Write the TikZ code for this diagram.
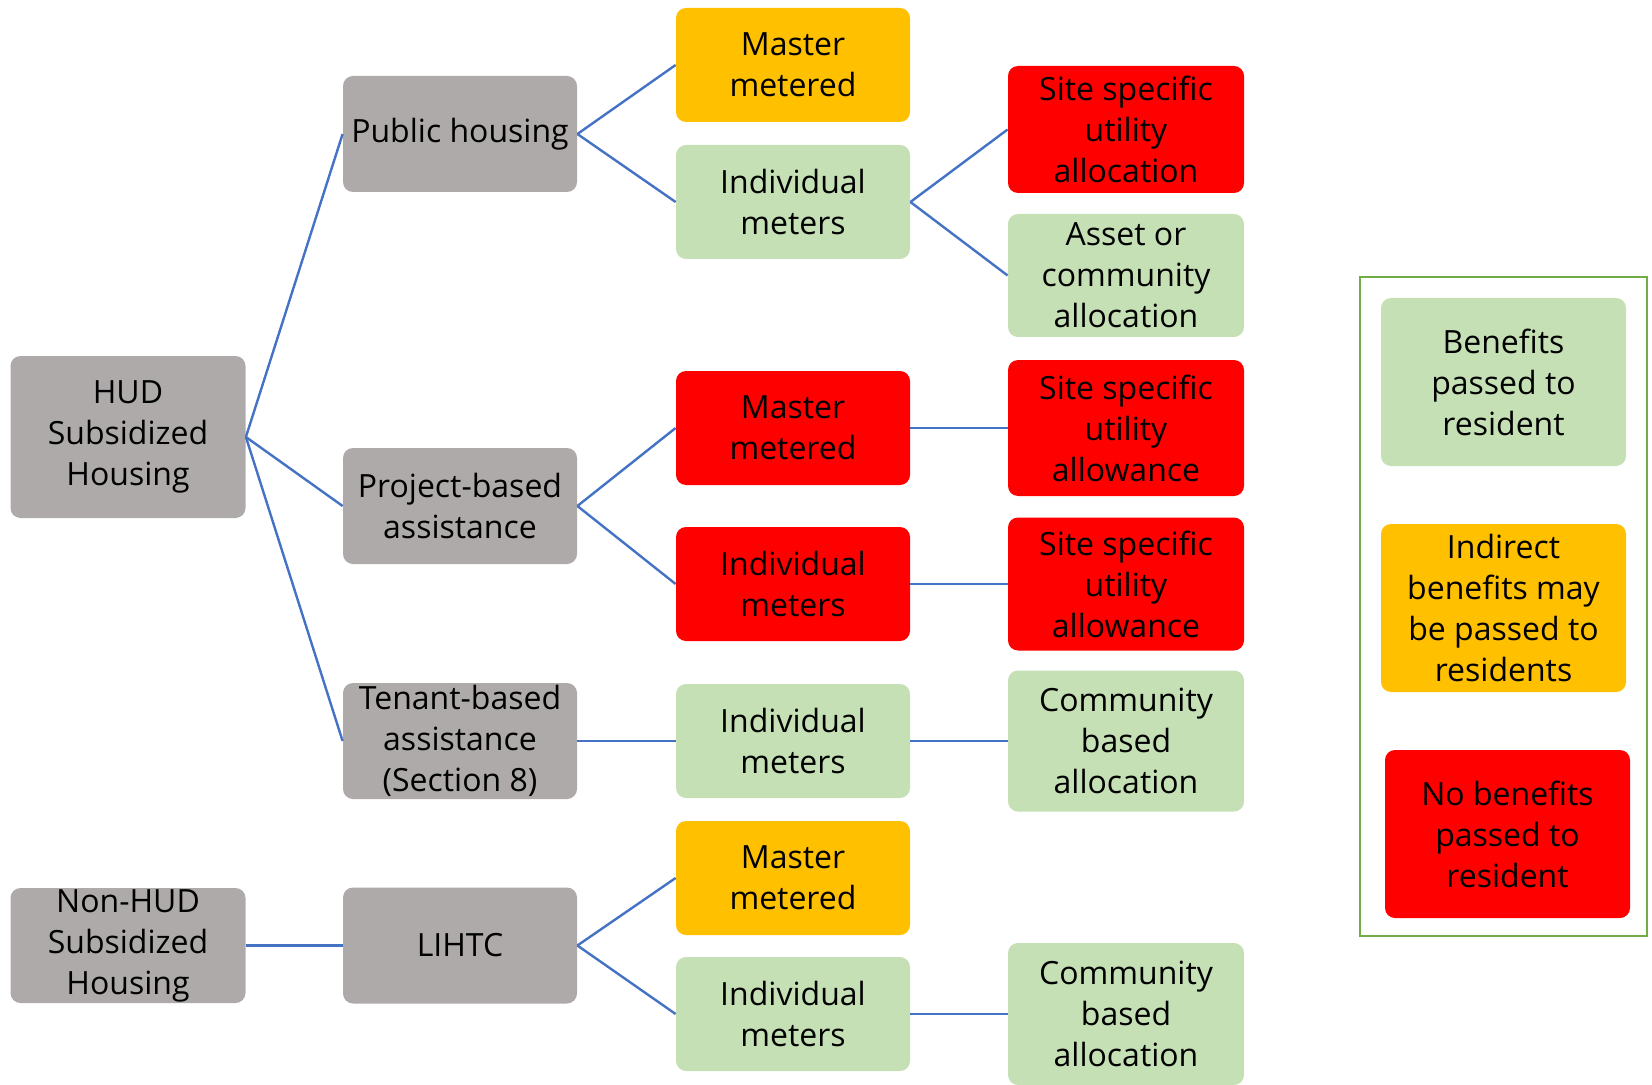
\documentclass[tikz,border=0pt]{standalone}
\usepackage{fontspec}
\setmainfont{Open Sans}
\definecolor{boxgrey}{HTML}{AEAAAA}
\definecolor{boxgreen}{HTML}{C5E0B4}
\definecolor{boxorange}{HTML}{FFC000}
\definecolor{boxred}{HTML}{FF0000}
\definecolor{linkblue}{HTML}{4472C4}
\definecolor{framegreen}{HTML}{70AD47}
\begin{document}
\begin{tikzpicture}[x=0.5pt,y=-0.5pt,
		box/.style={rounded corners=5pt, align=center, inner sep=0pt, text=black,
			font=\fontsize{16}{20.5}\selectfont},
		greybox/.style={box, fill=boxgrey},
		greenbox/.style={box, fill=boxgreen},
		orangebox/.style={box, fill=boxorange},
		redbox/.style={box, fill=boxred},
		link/.style={draw=linkblue, line width=1.2pt}]
		\useasboundingbox (0,0) rectangle (1652,1085);
		
		% first two columns
		\node[greybox, minimum width=117.5pt, minimum height=81pt] (hud) at (128,437) {HUD\\Subsidized\\Housing};
		\node[greybox, minimum width=117.5pt, minimum height=57.5pt] (nonhud) at (128,945.5) {Non-HUD\\Subsidized\\Housing};
		\node[greybox, minimum width=117pt, minimum height=58pt] (public) at (460,134) {Public housing};
		\node[greybox, minimum width=117pt, minimum height=58pt] (project) at (460,506) {Project-based\\assistance};
		\node[greybox, minimum width=117pt, minimum height=58pt] (tenant) at (460,741) {Tenant-based\\assistance\\(Section 8)};
		\node[greybox, minimum width=117pt, minimum height=58pt] (lihtc) at (460,945.5) {LIHTC};
		
		% meters
		\node[orangebox, minimum width=117pt, minimum height=57pt] (master1) at (793,65) {Master\\metered};
		\node[greenbox, minimum width=117pt, minimum height=57pt] (indiv1) at (793,202) {Individual\\meters};
		\node[redbox, minimum width=117pt, minimum height=57pt] (master2) at (793,428) {Master\\metered};
		\node[redbox, minimum width=117pt, minimum height=57pt] (indiv2) at (793,584) {Individual\\meters};
		\node[greenbox, minimum width=117pt, minimum height=57pt] (indiv3) at (793,741) {Individual\\meters};
		\node[orangebox, minimum width=117pt, minimum height=57pt] (master4) at (793,878) {Master\\metered};
		\node[greenbox, minimum width=117pt, minimum height=57pt] (indiv4) at (793,1014) {Individual\\meters};
		
		% allocations
		\node[redbox, minimum width=118pt, minimum height=63.5pt] (alloc1) at (1126,129.5) {Site specific\\utility\\allocation};
		\node[greenbox, minimum width=118pt, minimum height=61.5pt] (asset) at (1126,275.5) {Asset or\\community\\allocation};
		\node[redbox, minimum width=118pt, minimum height=68pt] (allow1) at (1126,428) {Site specific\\utility\\allowance};
		\node[redbox, minimum width=118pt, minimum height=66.5pt] (allow2) at (1126,584) {Site specific\\utility\\allowance};
		\node[greenbox, minimum width=118pt, minimum height=70.5pt] (comm1) at (1126,741) {Community\\based\\allocation};
		\node[greenbox, minimum width=118pt, minimum height=71pt] (comm2) at (1126,1014) {Community\\based\\allocation};
		
		% legend
		\draw[framegreen, line width=1pt] (1360,277) rectangle (1647,936);
		\node[greenbox, minimum width=122.5pt, minimum height=84pt] (leggreen) at (1503.5,382) {Benefits\\passed to\\resident};
		\node[orangebox, minimum width=122.5pt, minimum height=84pt] (legorange) at (1503.5,608) {Indirect\\benefits may\\be passed to\\residents};
		\node[redbox, minimum width=122.5pt, minimum height=84pt] (legred) at (1507.5,834) {No benefits\\passed to\\resident};
		
		\draw[link] (hud.east) -- (public.west);
		\draw[link] (hud.east) -- (project.west);
		\draw[link] (hud.east) -- (tenant.west);
		\draw[link] (nonhud.east) -- (lihtc.west);
		\draw[link] (public.east) -- (master1.west);
		\draw[link] (public.east) -- (indiv1.west);
		\draw[link] (project.east) -- (master2.west);
		\draw[link] (project.east) -- (indiv2.west);
		\draw[link] (tenant.east) -- (indiv3.west);
		\draw[link] (lihtc.east) -- (master4.west);
		\draw[link] (lihtc.east) -- (indiv4.west);
		\draw[link] (indiv1.east) -- (alloc1.west);
		\draw[link] (indiv1.east) -- (asset.west);
		\draw[link] (master2.east) -- (allow1.west);
		\draw[link] (indiv2.east) -- (allow2.west);
		\draw[link] (indiv3.east) -- (comm1.west);
		\draw[link] (indiv4.east) -- (comm2.west);
	\end{tikzpicture}
\end{document}
